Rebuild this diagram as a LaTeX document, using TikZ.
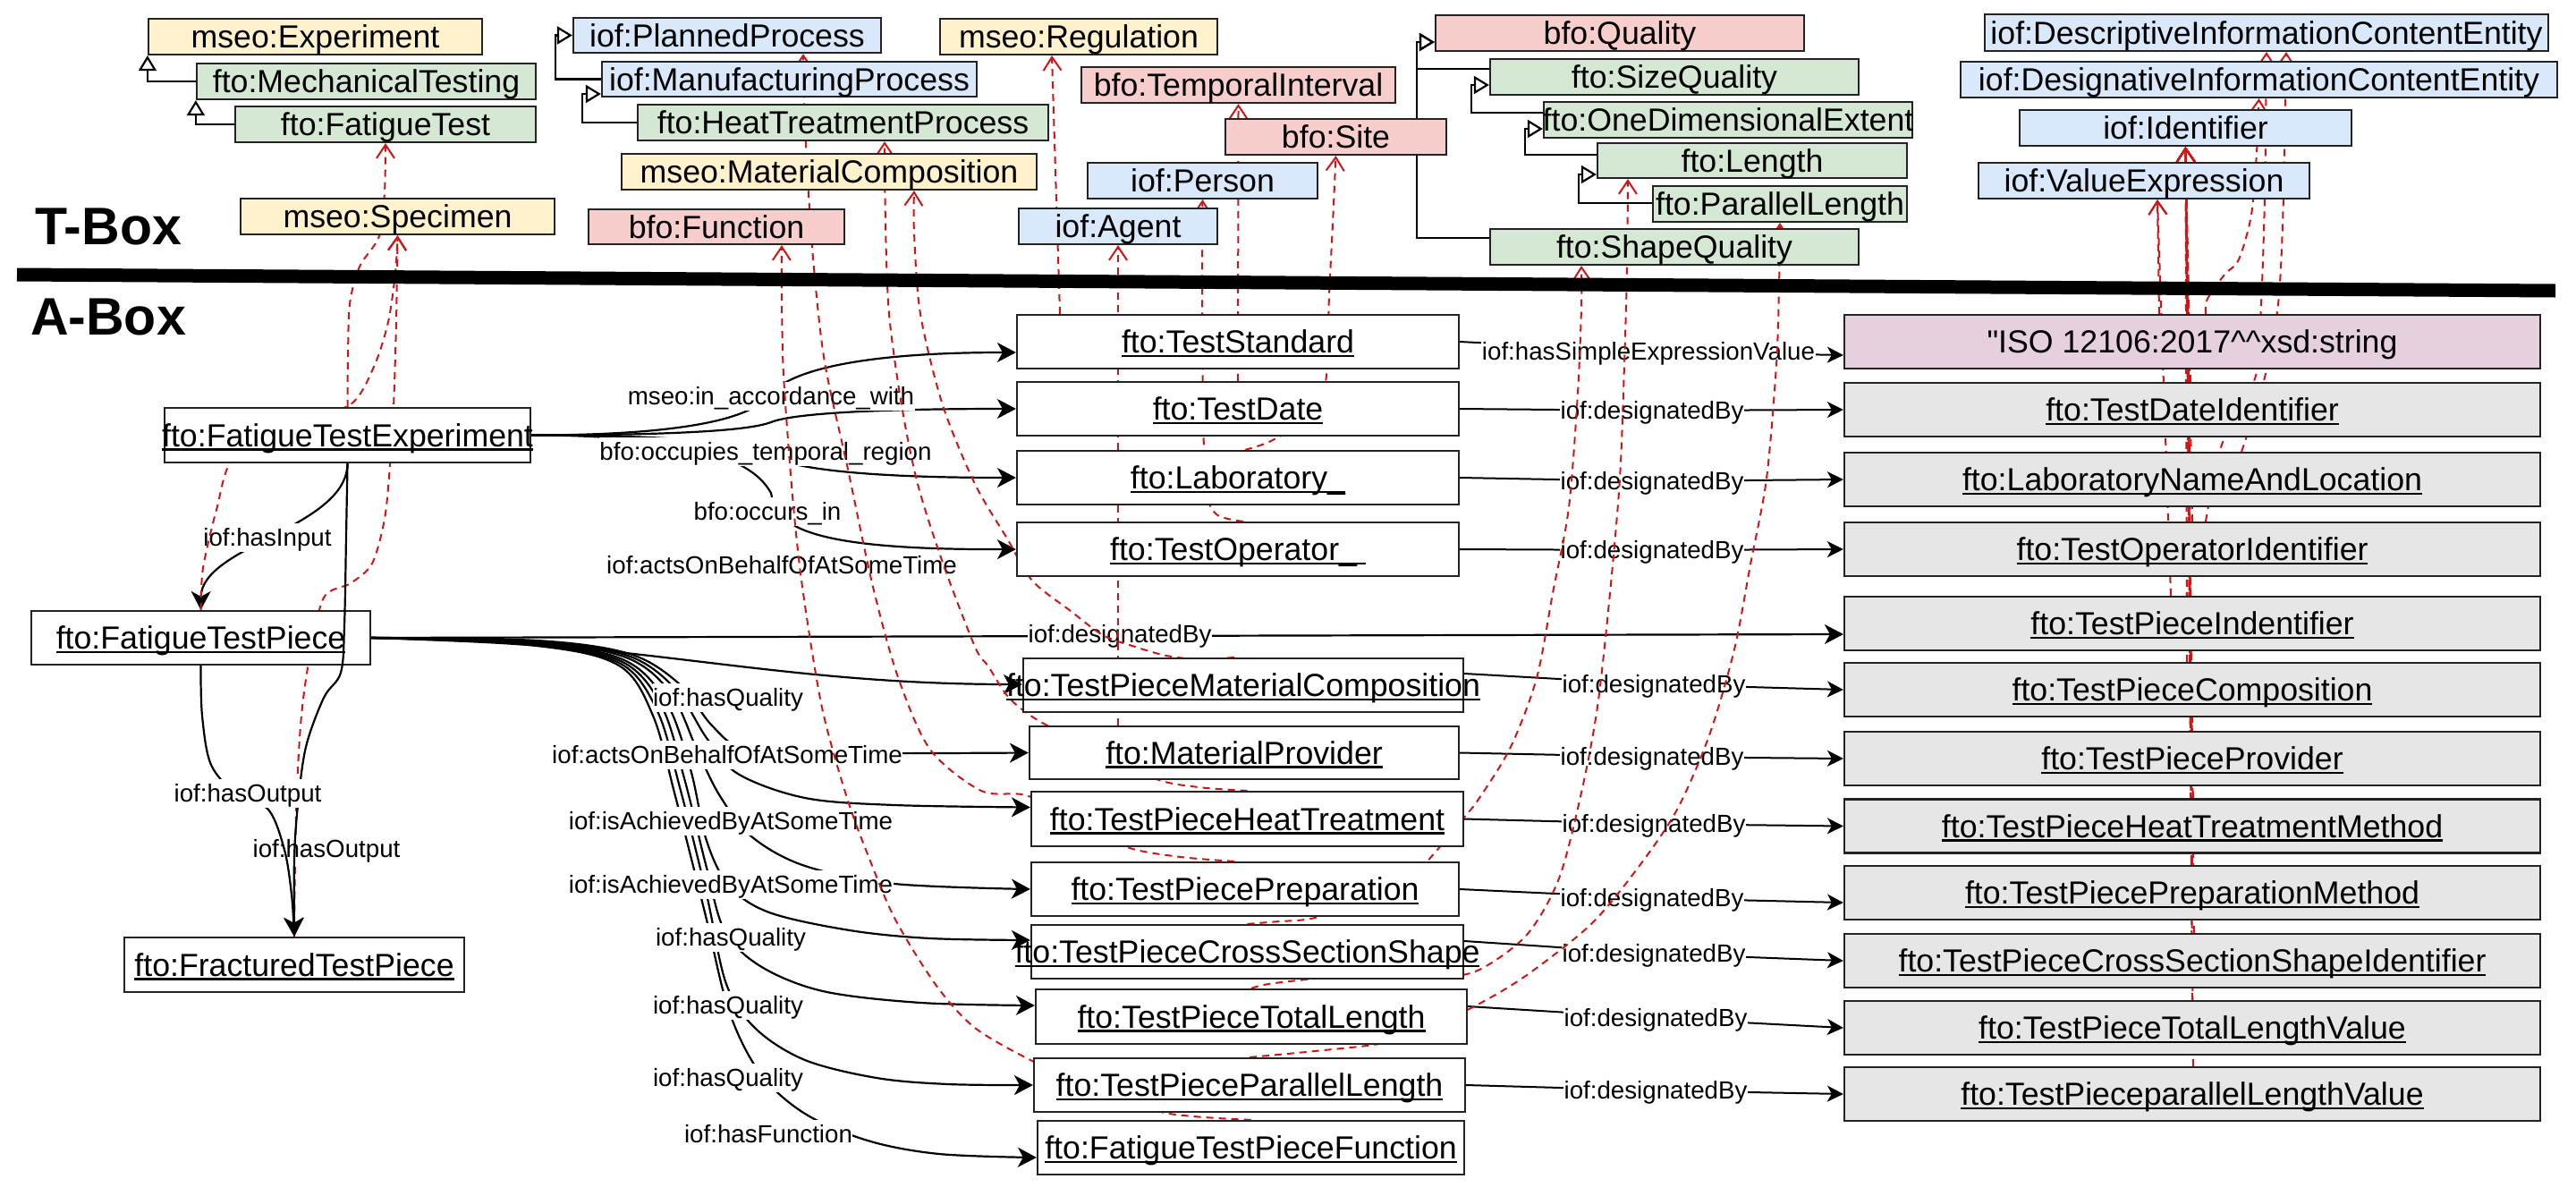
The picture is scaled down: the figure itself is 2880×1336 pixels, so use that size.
\documentclass[tikz,border=0pt]{standalone}
\usepackage{fontspec}
\setmainfont{Liberation Sans}
\newfontfamily\rawfont{Liberation Sans}
\usetikzlibrary{arrows.meta}

\definecolor{clsyellow}{HTML}{FFF2CC}
\definecolor{clsgreen}{HTML}{D5E8D4}
\definecolor{clsblue}{HTML}{DAE8FC}
\definecolor{clsred}{HTML}{F8CECC}
\definecolor{indgrey}{HTML}{E6E6E6}
\definecolor{litpink}{HTML}{E6D0DE}
\definecolor{typered}{HTML}{D21414}
\definecolor{bordc}{HTML}{232323}

\newcommand{\boxfont}{\fontsize{35.7}{42}\selectfont}
\newcommand{\labfont}{\fontsize{27.7}{32}\selectfont}
\newcommand{\titlefont}{\fontsize{59}{70}\selectfont\bfseries}
% underline set just below the baseline, crossing the descenders
\newcommand{\undl}[1]{\setbox0=\hbox{#1}\rlap{\rule[-0.13em]{\wd0}{0.07em}}\box0}
% zero-width centred text, so long names may run over the box edges
\newcommand{\ctr}[1]{\makebox[0pt][c]{#1}}
\newcommand{\indiv}[1]{\makebox[0pt][c]{\undl{#1}}}

\pgfdeclarelayer{edges}
\pgfdeclarelayer{elabels}
\pgfdeclarelayer{types}
\pgfdeclarelayer{front}
\pgfsetlayers{edges,elabels,types,main,front}

\tikzset{
  cbox/.style={draw=bordc, line width=2.2pt, inner sep=0pt, font=\boxfont, text height=25.6pt, text depth=0pt},
  tcls/.style={cbox, minimum height=40pt},
  abox/.style={cbox, fill=white, minimum height=60pt},
  rbox/.style={cbox, fill=indgrey, minimum width=778pt, minimum height=60pt},
  edgelabel/.style={font=\labfont, fill=white, inner sep=0.5pt, text height=25pt, text depth=5.2pt},
  boxtitle/.style={font=\titlefont, inner sep=0pt, text height=42.2pt, text depth=0pt},
  relarrow/.style={draw=black, line width=2pt, -{Stealth[length=18pt,width=18pt,inset=5pt]}},
  bigrel/.style={draw=black, line width=2.2pt, -{Stealth[length=21pt,width=22pt,inset=6pt]}},
  typelink/.style={draw=typered, line width=2pt, dash pattern=on 8pt off 6pt, -{Straight Barb[length=15pt,width=20pt]}},
  isalink/.style={draw=black, line width=2.2pt, -{Triangle[open,length=17pt,width=20pt]}},
}

\begin{document}
\begin{tikzpicture}[x=1pt,y=-1pt]
\useasboundingbox (0,0) rectangle (2880,1336);

% ---------------- T-Box classes ----------------
\node[tcls, fill=clsyellow, minimum width=373pt] (experiment) at (352.5,41) {\ctr{mseo:Experiment}};
\node[tcls, fill=clsgreen, minimum width=379pt] (mechtest) at (409.5,91) {\ctr{fto:MechanicalTesting}};
\node[tcls, fill=clsgreen, minimum width=336pt] (fatiguetest) at (431,139) {\ctr{fto:FatigueTest}};
\node[tcls, fill=clsyellow, minimum width=351pt] (specimen) at (444.5,242) {\ctr{mseo:Specimen}};

\node[tcls, fill=clsblue, minimum width=344pt, minimum height=39pt] (planned) at (813,39.5) {\ctr{iof:PlannedProcess}};
\node[tcls, fill=clsblue, minimum width=419pt, minimum height=39pt] (manuf) at (882.5,88.5) {\ctr{iof:ManufacturingProcess}};
\node[tcls, fill=clsgreen, minimum width=459pt] (htp) at (942.5,137) {\ctr{fto:HeatTreatmentProcess}};
\node[tcls, fill=clsyellow, minimum width=464pt] (matcomp) at (927,192) {\ctr{mseo:MaterialComposition}};
\node[tcls, fill=clsred, minimum width=286pt, minimum height=39pt] (function) at (801,253.5) {\ctr{bfo:Function}};

\node[tcls, fill=clsyellow, minimum width=310pt] (regulation) at (1206,41) {\ctr{mseo:Regulation}};
\node[tcls, fill=clsred, minimum width=351pt] (temporal) at (1384.5,95) {\ctr{bfo:TemporalInterval}};
\node[tcls, fill=clsred, minimum width=247pt] (site) at (1493.5,153) {\ctr{bfo:Site}};
\node[tcls, fill=clsblue, minimum width=257pt] (person) at (1344.5,202) {\ctr{iof:Person}};
\node[tcls, fill=clsblue, minimum width=222pt] (agent) at (1250,253) {\ctr{iof:Agent}};

\node[tcls, fill=clsred, minimum width=412pt] (quality) at (1811,37) {\ctr{bfo:Quality}};
\node[tcls, fill=clsgreen, minimum width=412pt] (sizeq) at (1872,86) {\ctr{fto:SizeQuality}};
\node[tcls, fill=clsgreen, minimum width=412pt] (onedim) at (1932,134) {\ctr{fto:OneDimensionalExtent}};
\node[tcls, fill=clsgreen, minimum width=346pt, minimum height=39pt] (length) at (1959,179.5) {\ctr{fto:Length}};
\node[tcls, fill=clsgreen, minimum width=284pt] (parallel) at (1990,228) {\ctr{fto:ParallelLength}};
\node[tcls, fill=clsgreen, minimum width=412pt] (shapeq) at (1872,276) {\ctr{fto:ShapeQuality}};

\node[tcls, fill=clsblue, minimum width=630pt, minimum height=41pt] (descice) at (2534,36.5) {\ctr{iof:DescriptiveInformationContentEntity}};
\node[tcls, fill=clsblue, minimum width=667pt] (desigice) at (2525.5,89) {\ctr{iof:DesignativeInformationContentEntity}};
\node[tcls, fill=clsblue, minimum width=371pt] (identifier) at (2443.5,143) {\ctr{iof:Identifier}};
\node[tcls, fill=clsblue, minimum width=370pt] (valueexp) at (2397,202) {\ctr{iof:ValueExpression}};

% ---------------- separator and titles ----------------
\coordinate (sepL) at (19,307);
\coordinate (sepR) at (2857,325);
\draw[line width=15pt] (sepL) -- (sepR);
\node[boxtitle] (tboxtitle) at (121,252) {T-Box};
\node[boxtitle] (aboxtitle) at (121,353) {A-Box};

% ---------------- A-Box individuals ----------------
\node[abox, minimum width=409pt, minimum height=61pt] (exp) at (388.5,486.5) {\indiv{fto:FatigueTestExperiment}};
\node[abox, minimum width=379pt] (tp) at (224.5,713) {\indiv{fto:FatigueTestPiece}};
\node[abox, minimum width=380pt, minimum height=61pt] (frac) at (329,1078.5) {\indiv{fto:FracturedTestPiece}};

\node[abox, minimum width=494pt] (teststd) at (1384,382) {\indiv{fto:TestStandard}};
\node[abox, minimum width=494pt] (testdate) at (1384,457) {\indiv{fto:TestDate}};
\node[abox, minimum width=494pt] (lab) at (1384,534) {\indiv{fto:Laboratory\_}};
\node[abox, minimum width=494pt] (op) at (1384,614) {\indiv{fto:TestOperator\_\ }};
\node[abox, minimum width=492pt] (tpmc) at (1390,766) {\indiv{fto:TestPieceMaterialComposition}};
\node[abox, minimum width=480pt, minimum height=59pt] (mprov) at (1391,841.5) {\indiv{fto:MaterialProvider}};
\node[abox, minimum width=483pt, minimum height=61pt] (ht) at (1394.5,915.5) {\indiv{fto:TestPieceHeatTreatment}};
\node[abox, minimum width=478pt] (prep) at (1392,994) {\indiv{fto:TestPiecePreparation}};
\node[abox, minimum width=483pt] (cs) at (1394.5,1064) {\indiv{fto:TestPieceCrossSectionShape}};
\node[abox, minimum width=482pt, minimum height=61pt] (tl) at (1399,1136.5) {\indiv{fto:TestPieceTotalLength}};
\node[abox, minimum width=482pt] (pl) at (1397,1213) {\indiv{fto:TestPieceParallelLength}};
\node[abox, minimum width=477pt] (ftpf) at (1398.5,1283) {\indiv{fto:FatigueTestPieceFunction}};

\node[rbox, fill=litpink] (iso) at (2451,382) {\ctr{\rawfont"ISO 12106:2017\textasciicircum\textasciicircum xsd:string}};
\node[rbox] (tdid) at (2451,458) {\indiv{fto:TestDateIdentifier}};
\node[rbox] (labname) at (2451,536) {\indiv{fto:LaboratoryNameAndLocation}};
\node[rbox] (opid) at (2451,614) {\indiv{fto:TestOperatorIdentifier}};
\node[rbox] (tpid) at (2451,697) {\indiv{fto:TestPieceIndentifier}};
\node[rbox] (tpcomp) at (2451,771) {\indiv{fto:TestPieceComposition}};
\node[rbox] (tpprov) at (2451,848) {\indiv{fto:TestPieceProvider}};
\node[rbox] (tphtm) at (2451,923.5) {\indiv{fto:TestPieceHeatTreatmentMethod}};
\node[rbox] (tpprepm) at (2451,998) {\indiv{fto:TestPiecePreparationMethod}};
\node[rbox] (tpcsid) at (2451,1074) {\indiv{fto:TestPieceCrossSectionShapeIdentifier}};
\node[rbox] (tptlv) at (2451,1149) {\indiv{fto:TestPieceTotalLengthValue}};
\node[rbox] (tpplv) at (2451,1223) {\indiv{fto:TestPieceparallelLengthValue}};

% ---------------- edge labels ----------------
\begin{pgfonlayer}{elabels}
\node[edgelabel] (lacc) at (862,443) {mseo:in\_accordance\_with};
\node[edgelabel] (locc) at (856,505) {bfo:occupies\_temporal\_region};
\node[edgelabel] (lin) at (858,572) {bfo:occurs\_in};
\node[edgelabel] (lact) at (874,632) {iof:actsOnBehalfOfAtSomeTime};
\node[edgelabel] (lhin) at (299,601) {iof:hasInput};

\node[edgelabel] (fq1) at (814,780) {iof:hasQuality};
\node[edgelabel] (fact) at (813,844) {iof:actsOnBehalfOfAtSomeTime};
\node[edgelabel] (fach1) at (817,918) {iof:isAchievedByAtSomeTime};
\node[edgelabel] (fach2) at (817,989) {iof:isAchievedByAtSomeTime};
\node[edgelabel] (fq2) at (817,1048) {iof:hasQuality};
\node[edgelabel] (fq3) at (814,1124) {iof:hasQuality};
\node[edgelabel] (fq4) at (814,1205) {iof:hasQuality};
\node[edgelabel] (ffun) at (859,1268) {iof:hasFunction};

\node[edgelabel] (lsev) at (1843,393) {iof:hasSimpleExpressionValue};
\node[edgelabel] (ld1) at (1847,459) {iof:designatedBy};
\node[edgelabel] (ld2) at (1847,538) {iof:designatedBy};
\node[edgelabel] (ld3) at (1847,615) {iof:designatedBy};
\node[edgelabel] (ldtp) at (1252,709) {iof:designatedBy};
\node[edgelabel] (ld4) at (1849,765) {iof:designatedBy};
\node[edgelabel] (ld5) at (1847,846) {iof:designatedBy};
\node[edgelabel] (ld6) at (1849,921) {iof:designatedBy};
\node[edgelabel] (ld7) at (1847,1004) {iof:designatedBy};
\node[edgelabel] (ld8) at (1849,1066) {iof:designatedBy};
\node[edgelabel] (ld9) at (1851,1138) {iof:designatedBy};
\node[edgelabel] (ld10) at (1851,1219) {iof:designatedBy};
\end{pgfonlayer}

% ---------------- object properties and subclass links ----------------
\begin{pgfonlayer}{edges}
% subclass hierarchy
\draw[isalink] (mechtest.west) -| (experiment.south west);
\draw[isalink] (fatiguetest.west) -| (mechtest.south west);
\draw[isalink] (manuf.west) -- ++(-51,0) |- (planned.west);
\draw[isalink] (htp.west) -- ++(-61,0) |- ([yshift=-16.5pt]manuf.west);
\draw[isalink] ([yshift=9pt]sizeq.west) -- ++(-81,0) |- ([yshift=-10pt]quality.west);
\draw[isalink] ([yshift=10pt]shapeq.west) -- ++(-81,0) |- ([yshift=-10pt]quality.west);
\draw[isalink] ([yshift=8pt]onedim.west) -- ++(-80,0) |- ([yshift=-9pt]sizeq.west);
\draw[isalink] ([yshift=6.5pt]length.west) -- ++(-80,0) |- ([yshift=-10pt]onedim.west);
\draw[isalink] ([yshift=1pt]parallel.west) -- ++(-82,0) |- ([yshift=-15.5pt]length.west);

% experiment to its participants
\draw[bigrel] (exp.east) .. controls (820,486.5) and (850,454) .. (862,440) .. controls (874,426) and (920,394) .. ([yshift=-12pt]teststd.west);
\draw[bigrel] (exp.east) .. controls (820,486.5) and (850,476) .. (862,472) .. controls (874,467) and (920,457) .. (testdate.west);
\draw[bigrel] (exp.east) .. controls (820,486.5) and (850,503) .. (862,510) .. controls (874,517) and (920,534) .. (lab.west);
\draw[bigrel] (exp.east) .. controls (820,486.5) and (850,531.5) .. (862,551) .. controls (868,585) and (890,615) .. (op.west);
\draw[bigrel] (exp.south) .. controls (388,590) and (225,610) .. (tp.north);

% test piece fan
\draw[bigrel] (tp.east) to[out=0,in=180] ([yshift=1pt]tpmc.west);
\draw[bigrel] plot[smooth, tension=0.55] coordinates {(tp.east) (600,716) (704,731) (760,765) (795,810) (830,837) (900,842) (mprov.west)};
\draw[bigrel] plot[smooth, tension=0.55] coordinates {(tp.east) (600,717) (702,733) (755,770) (790,825) (825,865) (900,892) (1000,900) ([yshift=13pt]ht.west)};
\draw[bigrel] plot[smooth, tension=0.55] coordinates {(tp.east) (600,718) (700,735) (750,775) (780,840) (805,890) (840,935) (900,968) (1000,988) (prep.west)};
\draw[bigrel] plot[smooth, tension=0.55] coordinates {(tp.east) (600,719) (698,738) (745,785) (772,860) (790,940) (815,990) (860,1020) (950,1040) (1040,1049) ([yshift=13pt]cs.west)};
\draw[bigrel] plot[smooth, tension=0.55] coordinates {(tp.east) (600,720) (696,740) (740,790) (765,870) (790,970) (810,1040) (850,1080) (920,1108) (1030,1121) ([yshift=12.5pt]tl.west)};
\draw[bigrel] plot[smooth, tension=0.55] coordinates {(tp.east) (600,721) (694,742) (735,795) (760,880) (790,1000) (812,1100) (845,1150) (900,1185) (980,1205) (1060,1212) (pl.west)};
\draw[bigrel] plot[smooth, tension=0.55] coordinates {(tp.east) (600,722) (692,744) (730,800) (755,890) (788,1020) (815,1130) (850,1200) (900,1245) (970,1275) (1050,1290) ([yshift=-11pt]ftpf.west)};
\draw[bigrel] (tp.east) -- ([yshift=-12pt]tpid.west);

% designations
\draw[relarrow] (teststd.east) -- (lsev) -- ([yshift=-15pt]iso.west);
\draw[relarrow] (testdate.east) -- (ld1) -- (tdid.west);
\draw[relarrow] (lab.east) -- (ld2) -- (labname.west);
\draw[relarrow] (op.east) -- (ld3) -- (opid.west);
\draw[relarrow] ([yshift=13pt]tpmc.east) -- (ld4) -- (tpcomp.west);
\draw[relarrow] (mprov.east) -- (ld5) -- (tpprov.west);
\draw[relarrow] (ht.east) -- (ld6) -- (tphtm.west);
\draw[relarrow] (prep.east) -- (ld7) -- ([yshift=-11pt]tpprepm.west);
\draw[relarrow] ([yshift=12pt]cs.east) -- (ld8) -- (tpcsid.west);
\draw[relarrow] ([yshift=11.5pt]tl.east) -- (ld9) -- (tptlv.west);
\draw[relarrow] (pl.east) -- (ld10) -- (tpplv.west);
\end{pgfonlayer}

% ---------------- rdf:type links ----------------
\begin{pgfonlayer}{types}
\draw[typelink] plot[smooth] coordinates {(exp.north) (389,400) (391,340) (402,298) (424,264) (430,215) (fatiguetest.south)};
\draw[typelink] plot[smooth] coordinates {(tp.north) (227,635) (242,570) (262,510) (330,472) (392,452) (418,410) (434,360) (442,305) (specimen.south)};
\draw[typelink] plot[smooth] coordinates {(frac.north) (330,960) (332,880) (337,800) (346,735) (362,668) (392,652) (416,630) (430,580) (436,520) (440,456) (443,360) (specimen.south)};

\draw[typelink] plot[smooth] coordinates {(ftpf.north) (1302,1244) (1220,1215) (1154,1186) (1090,1149) (1047,1102) (1001,1028) (972,960) (947,892) (919,791) (897,656) (886,554) (876,419) (874,330) ([xshift=73pt]function.south)};
\draw[typelink] plot[smooth] coordinates {([xshift=-12pt]prep.north) (1320,958) (1260,947) (1200,915) (1147,889) (1097,884) (1040,838) (1004,757) (976,656) (947,520) (922,405) (910,300) (903,200) (899,110) ([xshift=85pt]planned.south)};
\draw[typelink] plot[smooth] coordinates {(ht.north) (1340,880) (1290,870) (1210,830) (1160,805) (1128,780) (1105,745) (1090,723) (1054,629) (1026,541) (1008,453) (994,351) (990,250) ([xshift=46.5pt]htp.south)};
\draw[typelink] plot[smooth] coordinates {([xshift=-10pt]tpmc.north) (1340,737) (1304,733) (1269,723) (1233,710) (1197,683) (1154,649) (1126,602) (1090,541) (1054,453) (1029,351) (1022,260) ([xshift=95pt]matcomp.south)};

\draw[typelink] ([xshift=-199pt]teststd.north) -- ([xshift=-30pt]regulation.south);
\draw[typelink] (testdate.north) -- (temporal.south);
\draw[typelink] plot[smooth] coordinates {([xshift=8pt]lab.north) (1421,493) (1460,468) (1482,427) (1486,330) (1490,250) (site.south)};
\draw[typelink] plot[smooth] coordinates {([xshift=6pt]op.north) (1360,575) (1348,545) (1345,450) (1344,330) (person.south)};
\draw[typelink] ([xshift=-141pt]mprov.north) -- (agent.south);

\draw[typelink] plot[smooth] coordinates {(cs.north) (1430,1030) (1470,1026) (1560,1000) (1600,958) (1636,915) (1654,892) (1689,835) (1718,758) (1736,663) (1754,567) (1764,439) (1768,344) ([xshift=-104pt]shapeq.south)};
\draw[typelink] plot[smooth] coordinates {(tl.north) (1425,1099) (1520,1090) (1610,1092) (1654,1084) (1707,1045) (1743,982) (1768,886) (1786,790) (1800,663) (1811,535) (1816,408) (1819,300) ([xshift=-139pt]length.south)};
\draw[typelink] plot[smooth] coordinates {(pl.north) (1470,1175) (1547,1166) (1600,1148) (1654,1122) (1707,1090) (1779,1033) (1832,969) (1875,905) (1911,822) (1939,726) (1957,631) (1975,535) (1986,408) (1989,320) (parallel.south)};

\draw[typelink] ([xshift=-37pt]iso.north) -- ([xshift=15pt]valueexp.south);
\draw[typelink] ([xshift=-24pt]tpid.north) -- ([xshift=15pt]valueexp.south);
\foreach \b/\s in {tdid/-2,labname/-3,opid/0,tpcomp/-6,tpprov/-1,tphtm/1,tpprepm/0,tpcsid/2,tptlv/0,tpplv/1}
  \draw[typelink] ([xshift=\s pt]\b.north) -- (identifier.south);
\draw[typelink] plot[smooth] coordinates {([xshift=15pt]iso.north) (2468,334) (2487,307) (2503,290) (2517,240) (2523,170) (desigice.south)};
\draw[typelink] plot[smooth] coordinates {([xshift=15pt]opid.north) (2484,497) (2522,420) (2528,340) (2532,220) (descice.south)};
\draw[typelink] plot[smooth] coordinates {([xshift=55pt]labname.north) (2530,430) (2547,340) (2553,220) ([xshift=22pt]descice.south)};
\end{pgfonlayer}

% ---------------- outputs, drawn over the test piece ----------------
\begin{pgfonlayer}{front}
\node[edgelabel] (lout2) at (365,949) {iof:hasOutput};
\draw[bigrel] plot[smooth, tension=0.55] coordinates {(exp.south) (387,600) (385,700) (381,752) (362,780) (342,835) (333,900) (329,960) (frac.north)};
\draw[bigrel] plot[smooth, tension=0.55] coordinates {(tp.south) (226,800) (236,855) (265,888) (300,905) (318,950) (326,1000) (frac.north)};
\node[edgelabel] (lout1) at (277,887) {iof:hasOutput};
\end{pgfonlayer}
\end{tikzpicture}
\end{document}
